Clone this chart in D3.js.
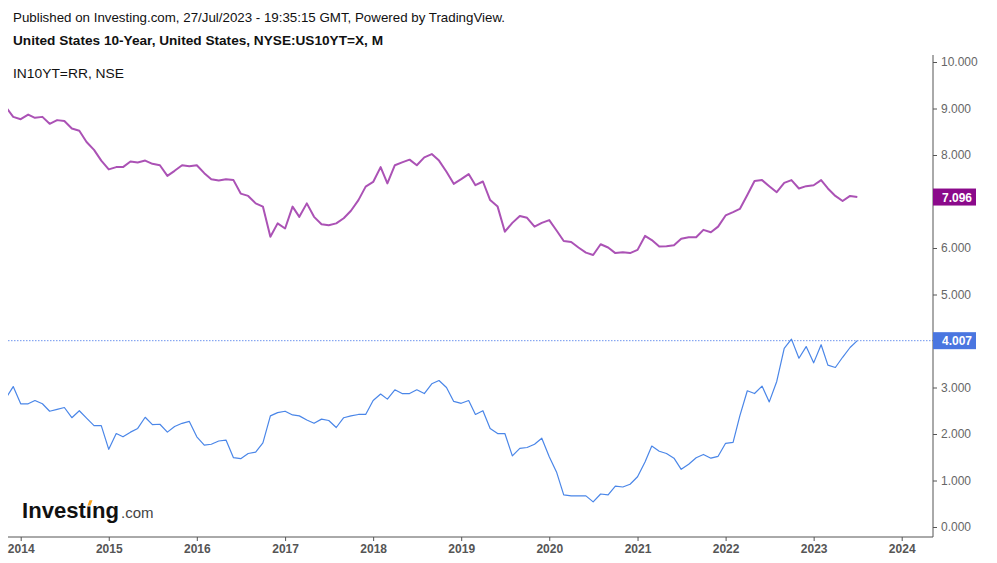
<!DOCTYPE html>
<html>
<head>
<meta charset="utf-8">
<script src="https://cdn.jsdelivr.net/npm/d3@7"></script>
<style>
  html, body { margin: 0; padding: 0; background: #fff; }
  svg { display: block; font-family: Arial, "Liberation Sans", sans-serif; }
</style>
</head>
<body>
<svg id="chart" width="997" height="563"></svg>
<script>
// ---- data (monthly closes, Nov 2013 .. Jul 2023) ----
const startMonth = "2013-11";
const endMonth = "2023-07";
const in10yt = [
  9.03, 8.82,
  8.77, 8.87, 8.80, 8.82, 8.67, 8.75, 8.73, 8.57, 8.52, 8.28, 8.11, 7.88,
  7.69, 7.74, 7.74, 7.86, 7.84, 7.88, 7.81, 7.78, 7.55, 7.66, 7.78, 7.76,
  7.78, 7.61, 7.48, 7.45, 7.48, 7.46, 7.17, 7.12, 6.96, 6.89, 6.24, 6.53,
  6.42, 6.89, 6.67, 6.96, 6.67, 6.51, 6.49, 6.53, 6.64, 6.80, 7.03, 7.32,
  7.42, 7.74, 7.39, 7.78, 7.84, 7.90, 7.78, 7.95, 8.02, 7.88, 7.64, 7.38,
  7.48, 7.59, 7.35, 7.43, 7.03, 6.89, 6.35, 6.54, 6.69, 6.65, 6.46, 6.54,
  6.60, 6.37, 6.15, 6.13, 6.01, 5.90, 5.85, 6.08, 6.01, 5.89, 5.91, 5.89,
  5.96, 6.26, 6.17, 6.03, 6.04, 6.06, 6.20, 6.23, 6.23, 6.39, 6.34, 6.46,
  6.70, 6.77, 6.84, 7.14, 7.44, 7.46, 7.33, 7.20, 7.40, 7.46, 7.28, 7.33,
  7.35, 7.46, 7.28, 7.12, 7.01, 7.12, 7.096
];
const us10yt = [
  2.77, 3.02,
  2.65, 2.65, 2.72, 2.65, 2.49, 2.53, 2.57, 2.35, 2.50, 2.34, 2.18, 2.18,
  1.67, 2.01, 1.94, 2.04, 2.12, 2.36, 2.20, 2.21, 2.04, 2.16, 2.23, 2.27,
  1.94, 1.76, 1.78, 1.85, 1.87, 1.49, 1.47, 1.58, 1.61, 1.81, 2.39, 2.46,
  2.49, 2.41, 2.39, 2.30, 2.23, 2.32, 2.29, 2.14, 2.35, 2.39, 2.42, 2.42,
  2.72, 2.86, 2.75, 2.95, 2.87, 2.87, 2.95, 2.87, 3.08, 3.15, 3.00, 2.70,
  2.66, 2.72, 2.42, 2.50, 2.12, 2.01, 2.01, 1.53, 1.69, 1.71, 1.78, 1.91,
  1.51, 1.17, 0.69, 0.67, 0.67, 0.67, 0.54, 0.71, 0.69, 0.88, 0.86, 0.92,
  1.08, 1.40, 1.74, 1.63, 1.58, 1.48, 1.24, 1.35, 1.49, 1.56, 1.48, 1.52,
  1.80, 1.82, 2.39, 2.93, 2.87, 3.03, 2.69, 3.13, 3.84, 4.04, 3.63, 3.88,
  3.53, 3.92, 3.48, 3.43, 3.65, 3.86, 4.007
];
const yTicks = [0, 1, 2, 3, 5, 6, 8, 9, 10];
const lastIN = "7.096";
const lastUS = "4.007";
const headerLine1 = "Published on Investing.com, 27/Jul/2023 - 19:35:15 GMT, Powered by TradingView.";
const headerLine2 = "United States 10-Year, United States, NYSE:US10YT=X, M";
const paneLabel = "IN10YT=RR, NSE";

// ---- layout ----
const plotLeft = 8, plotRight = 933, plotTop = 55, plotBottom = 537;
const parseM = d3.timeParse("%Y-%m");
const months = d3.timeMonth.range(parseM(startMonth), d3.timeMonth.offset(parseM(endMonth), 1));

const x = d3.scaleTime()
  .domain([new Date(2014, 0, 1), new Date(2024, 0, 1)])
  .range([20.7, 901.7]);
const y = d3.scaleLinear().domain([0, 10]).range([527, 62]);

const svg = d3.select("#chart");

// header texts
svg.append("text").attr("x", 13).attr("y", 22).attr("font-size", 13.5).attr("fill", "#111")
  .attr("textLength", 492).attr("lengthAdjust", "spacingAndGlyphs").text(headerLine1);
svg.append("text").attr("x", 13).attr("y", 45).attr("font-size", 13.5).attr("font-weight", "bold").attr("fill", "#111")
  .attr("textLength", 370).attr("lengthAdjust", "spacingAndGlyphs").text(headerLine2);
svg.append("text").attr("x", 13).attr("y", 78).attr("font-size", 13.5).attr("fill", "#111")
  .attr("textLength", 111).attr("lengthAdjust", "spacingAndGlyphs").text(paneLabel);

// clip
svg.append("clipPath").attr("id", "clip")
  .append("rect").attr("x", plotLeft).attr("y", plotTop)
  .attr("width", plotRight - plotLeft).attr("height", plotBottom - plotTop);

const g = svg.append("g").attr("clip-path", "url(#clip)");

// dotted last value line for US
g.append("line")
  .attr("x1", plotLeft).attr("x2", plotRight)
  .attr("y1", y(+lastUS)).attr("y2", y(+lastUS))
  .attr("stroke", "#6f95ee").attr("stroke-width", 1).attr("stroke-dasharray", "1.5,1.5");

const line = d3.line().x((d, i) => x(months[i])).y(d => y(d));

g.append("path").datum(in10yt).attr("d", line)
  .attr("fill", "none").attr("stroke", "#ab52b5").attr("stroke-width", 2).attr("stroke-linejoin", "round");
g.append("path").datum(us10yt).attr("d", line)
  .attr("fill", "none").attr("stroke", "#4a86e8").attr("stroke-width", 1.2).attr("stroke-linejoin", "round");

// right axis
const yAxis = d3.axisRight(y).tickValues(yTicks).tickFormat(d3.format(".3f")).tickSize(4).tickPadding(4);
const ya = svg.append("g").attr("transform", `translate(${plotRight},0)`).call(yAxis);
ya.select(".domain").attr("d", `M0,${plotTop}V${plotBottom}`).attr("stroke", "#555");
ya.selectAll(".tick line").attr("stroke", "#555");
ya.selectAll(".tick text").attr("fill", "#666").attr("font-size", 12).attr("font-family", "Arial, 'Liberation Sans', sans-serif");

// bottom axis
const xAxis = d3.axisBottom(x).ticks(d3.timeYear.every(1)).tickFormat(d3.timeFormat("%Y")).tickSize(4).tickPadding(3);
const xa = svg.append("g").attr("transform", `translate(0,${plotBottom})`).call(xAxis);
xa.select(".domain").attr("d", `M${plotLeft},0H${plotRight}`).attr("stroke", "#555");
xa.selectAll(".tick line").attr("stroke", "#555");
xa.selectAll(".tick text").attr("fill", "#555").attr("font-size", 12).attr("font-weight", "bold").attr("font-family", "Arial, 'Liberation Sans', sans-serif");

// last value labels
function valueLabel(val, color) {
  const yy = y(+val);
  svg.append("rect").attr("x", plotRight).attr("y", yy - 8.5).attr("width", 43).attr("height", 17).attr("fill", color);
  svg.append("text").attr("x", plotRight + 9).attr("y", yy + 4.5).attr("font-size", 12).attr("font-weight", "bold")
    .attr("fill", "#fff").text(val);
}
valueLabel(lastIN, "#8b0a8b");
valueLabel(lastUS, "#4a76e0");

// Investing.com logo
const logo = svg.append("g");
logo.append("text").attr("x", 22).attr("y", 518).attr("font-size", 22).attr("font-weight", "bold")
  .attr("fill", "#111").attr("textLength", 97).attr("lengthAdjust", "spacingAndGlyphs").text("Investing");
logo.append("text").attr("x", 121).attr("y", 518).attr("font-size", 15).attr("fill", "#444").text(".com");
// orange dot over the "i"
logo.append("rect").attr("x", 85.5).attr("y", 501).attr("width", 7).attr("height", 5.5).attr("fill", "#fff");
logo.append("path").attr("d", "M87.5,505.5 L89.5,500.2 L92.5,500.2 L90.5,505.5 Z").attr("fill", "#f7a21b");
</script>
</body>
</html>
